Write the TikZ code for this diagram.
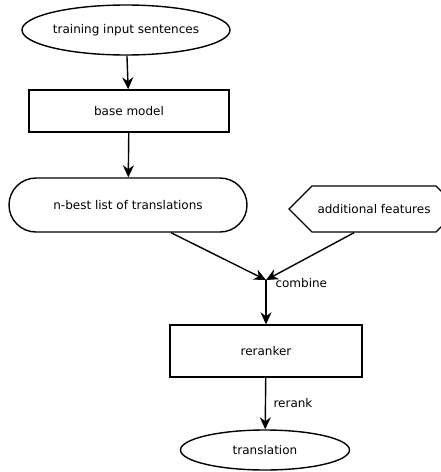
\documentclass[tikz,border=0pt]{standalone}
\usepackage{fontspec}
\setmainfont{DejaVu Sans}
\usetikzlibrary{arrows.meta}
\usetikzlibrary{shapes.geometric,shapes.symbols,shapes.misc}

\begin{document}
\begin{tikzpicture}[x=1pt,y=-1pt,
  every node/.style={font=\fontsize{12}{14}\selectfont},
  oval/.style={draw,line width=1.4pt,ellipse,inner sep=0pt},
  box/.style={draw,line width=1.4pt,rectangle,inner sep=0pt},
  flow/.style={line width=1.4pt,-{Stealth[length=12pt,width=11pt]}}]
\useasboundingbox (0,0) rectangle (440,472);
\node[oval,minimum width=208pt,minimum height=50pt] (train) at (126,30) {training input sentences};
\node[box,minimum width=200pt,minimum height=42pt] (base) at (129,111) {base model};
\node[draw,line width=1.4pt,rounded rectangle,inner sep=0pt,minimum width=238pt,minimum height=54pt] (nbest) at (128,205) {n-best list of translations};
\node[draw,line width=1.4pt,signal,signal to=west and east,inner sep=0pt,minimum width=170pt,minimum height=46pt] (feat) at (374,209) {additional features};
\coordinate (join) at (266,280);
\node[right] (comb) at (272,283) {combine};
\node[box,minimum width=192pt,minimum height=52pt] (rerank) at (266,351) {reranker};
\node[oval,minimum width=169pt,minimum height=40pt] (out) at (265,450) {translation};
\node[right] (rr) at (270,403) {rerank};
% arrows
\draw[flow] (train) -- (base);
\draw[flow] (base) -- (nbest);
\draw[flow] ([xshift=43pt]nbest.south) -- (join);
\draw[flow] ([xshift=-20pt]feat.south) -- (join);
\draw[flow] (join) -- (rerank);
\draw[flow] (rerank) -- (out);
\end{tikzpicture}
\end{document}
